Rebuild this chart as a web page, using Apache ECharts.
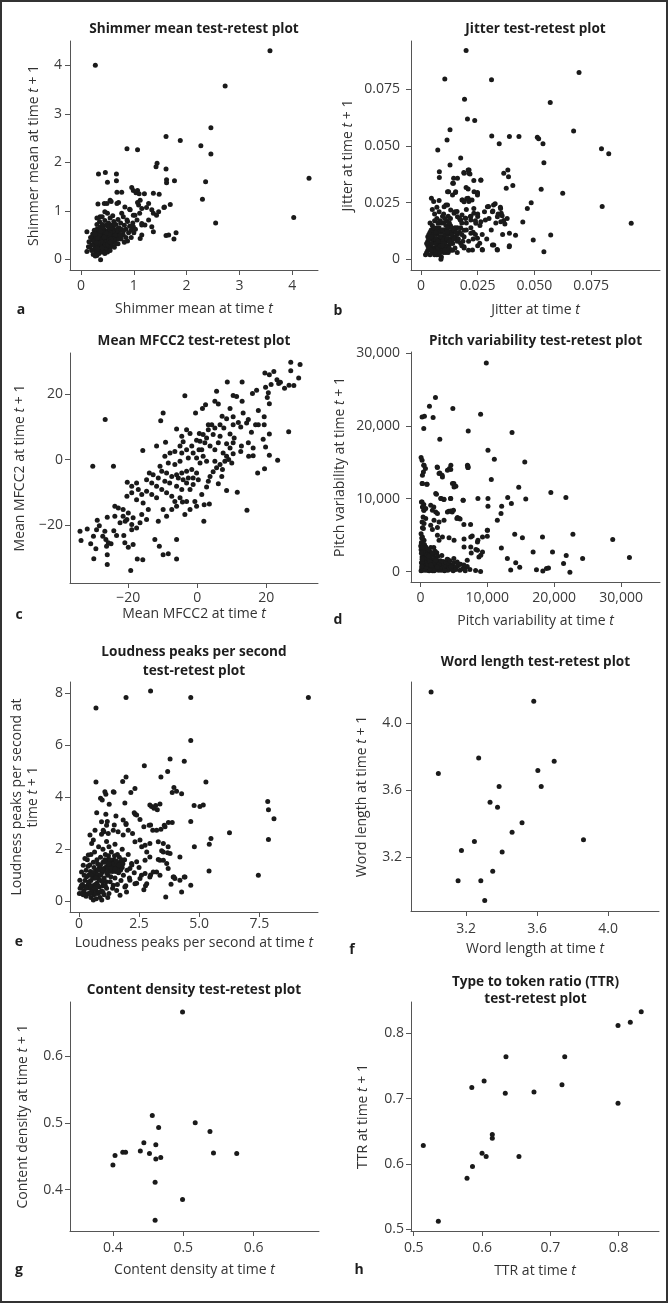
<!DOCTYPE html>
<html><head><meta charset="utf-8">
<script src="https://cdn.jsdelivr.net/npm/echarts@6/dist/echarts.min.js"></script>
<style>html,body{margin:0;padding:0;background:#fff}#c{width:668px;height:1303px}</style>
</head><body><div id="c"></div>
<script>
// ---------- DATA ----------
const shimmerData = [
[0.27,4.0],[3.58,4.3],[2.73,3.57],[2.46,2.71],[1.61,2.53],[1.88,2.45],[2.27,2.34],[0.87,2.28],[1.07,2.26],[2.46,2.17],[1.44,1.98],[1.42,1.91],[1.61,1.86],[4.32,1.67],[2.36,1.6],[1.62,1.64],[1.62,1.58],[1.77,1.62],[0.33,1.76],[0.46,1.79],[0.67,1.76],[0.5,1.59],[0.67,1.62],[2.3,1.24],[2.55,0.75],[4.03,0.86],[1.61,0.49],[1.66,0.5],[1.8,0.55],[1.76,0.42],[1.69,1.13],[1.57,1.07],[1.48,1.34],[1.37,1.36],[1.2,1.35],[1.04,1.37],[0.99,1.42],[0.96,1.48],[1.07,1.42],[1.1,1.35],[0.68,1.38],[0.77,1.38],[0.32,1.14],[0.44,1.15],[0.55,1.22],[0.71,1.17],[0.83,1.08],[0.92,1.03],[1.12,1.22],[1.09,1.12],[1.15,1.05],[1.11,0.95],[1.28,1.15],[1.34,1.02],[1.47,0.98],[1.58,1.08],[0.99,0.91],[1.06,0.81],[1.15,0.74],[1.21,0.71],[1.34,0.67],[1.37,0.57],[1.15,0.5],[1.12,0.43],[0.11,0.57],[0.11,0.16],[0.27,0.07],[0.37,-0.01],
[1.07,1.17],[1.24,1.07],[1.37,0.95],[1.43,0.91],[1.28,0.81],[1.15,0.71],[0.99,0.67],[0.87,0.81],[0.77,0.95],[0.93,1.02],[1.02,0.91],[0.68,1.15],[0.57,1.19],[0.49,1.15],[0.36,0.88],[0.3,0.85],[0.49,0.57],[0.36,0.26],[0.14,0.26],
[0.55,0.85],[0.6,0.9],[0.62,0.78],[0.66,0.72],[0.7,0.82],[0.72,0.65],[0.75,0.75],[0.78,0.6],[0.8,0.88],[0.82,0.7],[0.85,0.62],[0.88,0.78],[0.9,0.55],[0.92,0.68],[0.95,0.6],[0.98,0.75],[0.58,0.6],[0.6,0.5],[0.65,0.55],[0.68,0.45],[0.72,0.52],[0.76,0.42],[0.8,0.5],[0.85,0.45],[0.88,0.38],[0.5,0.95],[0.45,0.98],[0.4,0.88],[0.52,0.75],[0.56,0.68],[0.62,0.35],[0.7,0.32],[0.55,0.3],[0.82,0.35],[0.95,0.45],[1.0,0.55],[1.03,0.62],
[0.2,0.3],[0.22,0.4],[0.24,0.5],[0.25,0.2],[0.26,0.35],[0.27,0.45],[0.28,0.28],[0.28,0.55],[0.29,0.15],[0.3,0.38],[0.3,0.62],[0.31,0.25],[0.32,0.48],[0.32,0.32],[0.33,0.42],[0.33,0.2],[0.34,0.55],[0.34,0.36],[0.35,0.28],[0.35,0.46],[0.36,0.66],[0.36,0.4],[0.37,0.18],[0.37,0.33],[0.38,0.52],[0.38,0.44],[0.39,0.25],[0.39,0.38],[0.4,0.58],[0.4,0.3],[0.41,0.48],[0.41,0.42],[0.42,0.22],[0.42,0.35],[0.43,0.62],[0.43,0.5],[0.44,0.4],[0.44,0.28],[0.45,0.45],[0.45,0.33],[0.46,0.55],[0.46,0.2],[0.47,0.38],[0.47,0.7],[0.48,0.3],[0.48,0.48],[0.49,0.42],[0.5,0.25],[0.5,0.36],[0.5,0.58],[0.51,0.45],[0.52,0.32],[0.52,0.52],[0.53,0.4],[0.54,0.22],[0.54,0.62],[0.55,0.47],[0.56,0.36],[0.57,0.55],[0.58,0.42],[0.58,0.28],[0.6,0.65],[0.6,0.38],[0.62,0.48],[0.63,0.25],[0.64,0.58],[0.65,0.4],[0.66,0.32],[0.68,0.62],[0.7,0.42],[0.3,0.72],[0.35,0.78],[0.4,0.72],[0.45,0.8],[0.25,0.6],[0.22,0.52],[0.18,0.45],[0.15,0.36],[0.17,0.25],[0.2,0.18],[0.23,0.1],[0.3,0.08],[0.34,0.12],[0.4,0.15],[0.45,0.12],[0.5,0.15],[0.55,0.18],[0.26,0.42],[0.31,0.52],[0.36,0.5],[0.41,0.36],[0.46,0.42],[0.38,0.3],[0.43,0.44],[0.48,0.36],[0.33,0.3],[0.29,0.4],[0.39,0.47],[0.44,0.52],[0.49,0.5],[0.53,0.46],[0.57,0.38],[0.62,0.42],[0.35,0.6],[0.41,0.64],[0.52,0.66],[0.58,0.7],[0.63,0.72],[0.66,0.5],[0.7,0.58],[0.74,0.5],[0.76,0.62],[0.8,0.58],[0.27,0.24],[0.32,0.38],[0.37,0.26],[0.42,0.3],[0.47,0.24],[0.52,0.28],[0.24,0.3],
[0.25,0.38],[0.28,0.46],[0.3,0.3],[0.32,0.22],[0.34,0.44],[0.36,0.32],[0.38,0.4],[0.4,0.5],[0.42,0.42],[0.44,0.34],[0.46,0.48],[0.48,0.4],[0.5,0.45],[0.52,0.38],[0.54,0.5],[0.56,0.42],[0.38,0.36],[0.4,0.24],[0.42,0.56],[0.44,0.46],[0.46,0.3],[0.48,0.54],[0.35,0.52],[0.33,0.34],[0.31,0.44],[0.29,0.34],[0.27,0.52],[0.37,0.58],[0.5,0.3],[0.55,0.35]
];
const jitterData = [
[0.0199,0.0922],[0.0105,0.0796],[0.0311,0.0793],[0.0697,0.0825],[0.0192,0.0707],[0.057,0.0692],[0.0205,0.062],[0.0237,0.0613],[0.0128,0.0572],[0.0673,0.0567],[0.0115,0.0527],[0.0312,0.0545],[0.039,0.0542],[0.0432,0.0542],[0.0513,0.0539],[0.0519,0.0533],[0.0345,0.051],[0.0538,0.051],[0.0074,0.0483],[0.0796,0.0488],[0.0828,0.0466],[0.0175,0.0448],[0.0128,0.0417],[0.0542,0.0427],[0.0081,0.0387],[0.0081,0.0361],[0.0189,0.0383],[0.0208,0.0395],[0.0211,0.038],[0.0144,0.0358],[0.014,0.0336],[0.0264,0.0349],[0.0233,0.0348],[0.0365,0.038],[0.0383,0.0395],[0.0386,0.0365],[0.0405,0.0326],[0.0376,0.0314],[0.0199,0.0317],[0.0208,0.0311],[0.0249,0.0295],[0.0249,0.0284],[0.053,0.0309],[0.0625,0.0292],[0.0122,0.0299],[0.0152,0.0295],[0.0181,0.0262],[0.0208,0.027],[0.0225,0.0262],[0.0211,0.0255],[0.0046,0.027],[0.0056,0.0255],[0.0298,0.0233],[0.0327,0.0245],[0.0317,0.0214],[0.0351,0.0225],[0.0354,0.0203],[0.0358,0.0192],[0.0365,0.0171],[0.037,0.0156],[0.0486,0.025],[0.0469,0.0225],[0.0449,0.0165],[0.0799,0.0233],[0.0927,0.0159],[0.039,0.0115],[0.0417,0.0106],[0.0495,0.0085],[0.0572,0.0108],[0.0321,0.0063],[0.0336,0.0044],[0.039,0.006],[0.0542,0.0034],[0.0259,0.0071],[0.027,0.0044],[0.0284,0.0174],[0.025,0.0189],[0.0233,0.0203],[0.0233,0.0225],[0.0159,0.0211],[0.0181,0.0196],[0.0196,0.0181],[0.0218,0.0189],[0.0174,0.0174],[0.0088,0.0],
[0.019,0.038],[0.0212,0.0394],[0.0216,0.0377],[0.0143,0.0336],[0.0161,0.0358],[0.0117,0.0299],[0.0139,0.0284],[0.0153,0.0299],[0.0183,0.0262],[0.0202,0.0269],[0.0212,0.0262],[0.019,0.0254],[0.0234,0.0299],[0.0249,0.0292],[0.0264,0.035],[0.0102,0.0232],[0.0117,0.024],[0.0131,0.0218],[0.0146,0.0203],[0.0161,0.0188],[0.0175,0.0174],[0.0197,0.0181],[0.022,0.0174],[0.0242,0.0159],[0.0264,0.0166],[0.0293,0.0232],[0.0315,0.021],[0.0337,0.0188],[0.0352,0.0166],[0.019,0.0129],[0.022,0.0115],[0.0249,0.0093],[0.0271,0.0041],[0.0227,0.0041],[0.019,0.0056],[0.0175,0.0071],[0.0315,0.0063],[0.0337,0.0041],[0.0389,0.0056],
[0.002,0.002],[0.003,0.004],[0.003,0.008],[0.004,0.012],[0.004,0.006],[0.005,0.003],[0.005,0.01],[0.005,0.015],[0.006,0.005],[0.006,0.008],[0.006,0.013],[0.007,0.002],[0.007,0.006],[0.007,0.011],[0.007,0.018],[0.008,0.004],[0.008,0.009],[0.008,0.014],[0.008,0.021],[0.009,0.007],[0.009,0.012],[0.009,0.001],[0.01,0.005],[0.01,0.01],[0.01,0.016],[0.011,0.003],[0.011,0.008],[0.011,0.013],[0.012,0.006],[0.012,0.011],[0.012,0.019],[0.013,0.004],[0.013,0.009],[0.013,0.015],[0.014,0.007],[0.014,0.012],[0.015,0.005],[0.015,0.01],[0.016,0.014],[0.016,0.008],[0.017,0.012],[0.018,0.006],[0.018,0.016],[0.019,0.01],[0.02,0.013],[0.021,0.008],[0.022,0.019],[0.023,0.012],[0.024,0.017],[0.025,0.02],[0.026,0.015],[0.028,0.021],[0.03,0.018],[0.032,0.024],[0.034,0.02],[0.003,0.01],[0.004,0.016],[0.004,0.002],[0.005,0.007],[0.006,0.011],[0.006,0.017],[0.007,0.009],[0.007,0.014],[0.008,0.002],[0.008,0.007],[0.009,0.01],[0.009,0.016],[0.009,0.004],[0.01,0.008],[0.01,0.013],[0.011,0.006],[0.011,0.011],[0.012,0.003],[0.012,0.009],[0.013,0.012],[0.013,0.007],[0.014,0.01],[0.014,0.004],[0.015,0.014],[0.016,0.011],[0.003,0.006],[0.005,0.005],[0.005,0.012],[0.006,0.002],[0.007,0.004],[0.008,0.012],[0.009,0.008],[0.01,0.003],[0.011,0.015],[0.012,0.014],[0.004,0.009],[0.006,0.02],[0.007,0.023],[0.008,0.026],[0.005,0.022],[0.01,0.02],[0.011,0.024],[0.013,0.018],[0.015,0.021],[0.017,0.018],[0.02,0.016],[0.019,0.005],[0.021,0.004],[0.023,0.009],[0.025,0.006],[0.027,0.011],[0.029,0.009],[0.031,0.013],[0.033,0.016],[0.036,0.011],[0.035,0.023],[0.038,0.018],[0.016,0.003],[0.018,0.011],[0.02,0.022],[0.022,0.014],[0.024,0.011],
[0.0025,0.003],[0.0035,0.005],[0.0045,0.007],[0.0055,0.009],[0.0065,0.003],[0.0075,0.005],[0.0085,0.006],[0.0095,0.009],[0.0105,0.007],[0.0115,0.009],[0.0125,0.005],[0.0135,0.008],[0.0035,0.011],[0.0045,0.013],[0.0055,0.004],[0.0065,0.007],[0.0075,0.012],[0.0085,0.01],[0.0095,0.013],[0.0105,0.011],[0.0115,0.004],[0.0125,0.012],[0.0135,0.011],[0.0145,0.009],[0.0025,0.007],[0.0035,0.009],[0.0045,0.004],[0.0055,0.011],[0.0065,0.009],[0.0075,0.008],[0.0085,0.003],[0.0095,0.006],[0.0105,0.004],[0.0115,0.012],[0.0125,0.008],[0.0135,0.014],[0.0045,0.01],[0.0055,0.014],[0.0065,0.012],[0.0075,0.016],[0.0085,0.017],[0.0095,0.019],[0.0105,0.018],[0.0115,0.017],[0.0125,0.016],[0.0145,0.013],[0.0155,0.012],[0.0165,0.009],[0.0175,0.014],[0.0185,0.008]
];
const mfccData = [
[27.1,29.6],[29.8,28.9],[27.1,27.0],[19.6,26.3],[22.2,26.8],[20.9,25.8],[23.1,24.3],[24.1,23.5],[23.6,23.1],[25.3,21.7],[26.6,22.6],[29.4,24.8],[28.0,22.5],[21.4,22.8],[19.8,22.0],[20.6,20.3],[17.2,21.1],[16.0,20.1],[20.3,18.9],[20.9,17.0],[26.5,8.5],[20.9,7.8],[19.4,13.0],[17.7,14.9],[17.7,10.6],[19.4,10.6],[16.9,10.6],[19.1,6.2],[20.9,1.3],[23.3,-0.2],[19.5,-2.8],[17.5,-4.1],[16.2,3.5],[16.2,1.2],[19.8,3.8],
[13.0,17.7],[10.4,19.5],[11.4,19.2],[8.7,23.6],[13.0,23.6],[5.6,20.8],[6.1,16.9],[2.4,16.7],[1.5,15.5],[-0.5,14.2],[5.1,17.7],[7.2,13.2],[9.5,15.5],[10.4,13.0],[11.9,11.3],[13.3,14.2],[14.3,11.1],[14.8,12.2],[15.7,8.3],[12.6,9.9],[10.4,10.6],[8.5,12.4],[7.7,9.6],[9.5,7.8],[10.7,6.6],[12.8,4.1],[12.6,2.5],[14.8,5.1],[14.9,1.0],[10.4,5.1],[9.5,3.5],[8.5,4.8],[10.4,1.8],[8.5,1.0],[9.1,0],[10.0,-1.0],[7.5,2.0],[8.0,-0.5],[6.6,-1.5],[5.6,-2.5],[4.6,-3.7],[3.7,-5.1],[3.2,-6.6],[2.7,-8.3],[1.3,-10.6],[2.0,-13.7],[3.5,-13.5],[8.5,-9.4],[11.6,-9.9],[14.4,-15.4],[1.9,-18.7],[6.1,-7.3],[7.1,-5.1],[7.3,-3.0],[5.1,-0.5],[5.1,3.0],[6.1,5.1],[6.6,7.1],[4.6,7.6],[3.2,10.6],[4.2,10.6],[3.2,9.1],[6.6,10.6],[5.1,9.6],[1.7,7.6],[0.6,7.9],[-0.2,5.9],[0.8,5.6],[2.7,6.6],[2.2,5.1],[3.7,4.1],[1.3,3.0],[0.5,3.0],[1.7,1.0],[2.7,-0.5],[0.8,-1.0],[-0.2,0.5],
[-3.6,19.4],[-9.9,14.2],[-10.6,11.8],[-9.2,5.3],[-11.8,4.1],[-15.8,2.8],[-24.3,-2.0],[-30.3,-2.0],[-26.7,12.2],[-6.0,9.3],[-3.1,9.1],[-2.1,7.9],[-4.5,7.1],[-4.1,5.4],[-5.0,4.1],[-6.5,2.5],[-4.5,2.0],[-3.1,3.0],[-1.6,4.1],[-1.2,2.0],[-2.6,0.5],[-5.0,-0.5],[-6.5,-1.5],[-8.4,-1.0],[-9.4,1.0],[-7.9,2.0],[-10.8,-2.0],[-10.3,-3.5],[-8.9,-4.1],[-7.4,-5.1],[-6.0,-4.6],[-4.5,-4.1],[-3.1,-3.5],[-1.6,-3.0],[-0.2,-4.1],[-1.2,-5.6],[-2.6,-5.6],[-4.1,-6.1],[-5.5,-5.6],[-3.1,-7.1],[-1.2,-7.6],[0.3,-6.1],[-2.1,-9.1],[-4.5,-9.1],[-6.0,-8.1],[-8.0,-7.1],[-9.4,-6.6],[-11.3,-5.6],[-12.8,-4.6],[-13.9,-4.1],[-14.7,-6.1],[-13.2,-7.1],[-11.8,-8.1],[-10.3,-9.1],[-8.9,-10.1],[-7.4,-11.1],[-6.5,-12.7],[-5.0,-11.6],[-3.1,-12.7],[-0.7,-12.7],[-0.2,-14.2],[-2.1,-15.2],[-3.6,-16.7],[-6.0,-14.2],[-7.4,-15.2],[-8.9,-17.2],[-9.9,-15.2],[-11.8,-11.6],[-13.2,-10.6],[-14.7,-9.6],[-16.1,-10.6],[-17.1,-9.1],[-17.6,-7.1],[-19.0,-8.1],[-20.3,-6.9],[-19.0,-10.1],[-20.4,-11.1],[-17.6,-12.2],[-15.7,-13.2],[-14.2,-15.2],[-16.1,-16.7],[-14.7,-18.2],[-16.6,-19.2],[-18.6,-17.7],[-20.0,-16.2],[-21.5,-15.2],[-22.9,-14.7],[-23.9,-14.2],[-21.5,-17.2],[-20.4,-18.2],[-19.0,-19.7],[-17.6,-20.8],[-19.0,-21.3],[-20.9,-18.7],[-22.4,-19.2],[-23.9,-17.2],[-11.3,-18.7],[-12.3,-24.3],[-11.0,-26.3],[-9.9,-28.9],[-8.4,-28.6],[-6.0,-30.2],[-6.0,-24.3],[-4.3,-12.9],
[-26.1,-17.5],[-29.0,-18.4],[-28.4,-20.1],[-31.9,-21.1],[-29.2,-21.3],[-30.1,-23.3],[-34.0,-21.8],[-33.7,-24.6],[-30.9,-25.6],[-29.4,-27.1],[-30.0,-30.1],[-26.1,-28.9],[-27.4,-23.3],[-26.8,-21.8],[-26.5,-24.3],[-25.8,-25.3],[-26.3,-26.3],[-25.0,-25.6],[-23.4,-23.1],[-21.3,-23.1],[-21.0,-25.3],[-18.6,-25.8],[-20.0,-26.6],[-24.2,-21.6],[-26.1,-31.9],[-19.3,-33.7],[-17.4,-30.2],[-15.8,-30.4]
];
const pitchData = [
[9850,28630],[2250,23870],[1350,22680],[4850,22360],[9000,21580],[250,21220],[600,21310],[1900,21130],[500,19620],[7150,19300],[13700,19070],[2900,18150],[10100,16650],[11050,15410],[100,15640],[250,15270],[15600,15050],[10600,12620],[500,14590],[750,14130],[2500,14360],[7100,14500],[7100,14270],[4550,14590],[4350,14130],[2900,13540],[3250,13220],[250,12070],[1000,11980],[5000,12070],[5300,11710],[14700,11570],[19500,10840],[21750,10150],[2400,10610],[3100,10010],[3500,9880],[4500,10010],[6400,9790],[8600,10010],[10100,10010],[10100,8960],[13050,10150],[13600,9330],[12150,8960],[15750,9970],[250,9560],[500,8410],[500,9190],[2000,8870],[4250,8280],[4750,8190],[5450,7270],[5800,7270],[7500,6450],[6500,6450],[11500,7040],[12050,7960],[7750,4890],[8600,4300],[10000,5670],[10000,4850],[14100,5120],[15250,4660],[18250,4760],[22800,5120],[28750,4390],[31250,1920],[19750,2700],[16850,2700],[12100,3250],[13000,1780],[14250,1230],[14850,590],[13500,230],[17350,270],[18300,90],[18850,410],[19150,500],[21400,1100],[21800,2200],[24250,1780],[22350,-90],[8300,3020],[8750,2010],[7600,2560],[7000,1550],[6750,640],[8250,140],[9000,0],[5800,1010],[4750,640],[5000,1780],[4100,1650],[3900,1100],
[540,14580],[450,13670],[300,13210],[300,12070],[940,11980],[2545,14270],[2785,13450],[3290,12980],[4040,13900],[4535,13990],[4790,12070],[5030,11610],[7035,14580],[7125,14270],[2290,10700],[3040,10010],[3530,9920],[4535,10010],[6380,9780],[150,9550],[300,8860],[540,8410],[795,8640],[1540,9100],[1795,8410],[2290,8180],[2545,7960],[4040,8180],[4535,8320],[4940,8410],[3530,7040],[2785,6810],[2035,7040],[5540,7410],[5930,7220],[795,7270],[540,6590],[450,5900],[1540,6350],[1795,5760],[2545,6040],[300,4750],[540,4290],[150,3840],[795,3380],[2545,4980],[2785,4290],[3290,4750],[4280,4660],[5030,4290],[6525,4470],[7530,4750],[6525,3380],[7530,3380],[8530,4060],[9280,4750],[10030,5670],[8530,2920],[9280,2690],[9025,2240],
[100,100],[200,400],[300,900],[400,1500],[500,2200],[600,2800],[700,3400],[150,1200],[250,2000],[350,2600],[450,300],[550,700],[650,1100],[750,1800],[850,2500],[950,3100],[1050,200],[1150,600],[1250,1300],[1350,2000],[1450,2700],[1550,3300],[1650,400],[1750,900],[1850,1500],[1950,2300],[2050,100],[2150,700],[2250,1200],[2350,1900],[2450,2600],[2550,300],[2650,800],[2750,1400],[2850,500],[2950,1000],[3100,200],[3300,600],[3500,1100],[3700,400],[3900,800],[4100,200],[4300,500],[4500,900],[4700,300],[4900,100],[5100,600],[5300,300],[5600,800],[5900,200],[6300,400],[6700,100],[7000,700],[7400,300],[100,3000],[200,3600],[300,200],[400,500],[500,1000],[600,1600],[700,200],[800,700],[900,1300],[1000,1900],[1100,2500],[1200,3000],[1300,100],[1400,500],[1500,1000],[1600,1700],[1700,2200],[1800,100],[1900,600],[2000,1100],[2100,1700],[2200,2800],[2300,400],[2400,900],[2500,1500],[2600,2100],[2700,200],[2800,1000],[3000,1500],[3200,2200],[3400,1400],[3600,100],[3800,1300],[4000,1700],[4200,1100],[4400,1500],[4600,700],[5000,1200],[5500,1300],[6000,1000],[6500,900],[100,5200],[200,4600],[150,4000],[50,3500],[300,6000],[250,6800],[400,7500],
[300,1400],[500,1800],[700,2500],[900,600],[1100,1000],[1300,1700],[1500,300],[1700,700],[1900,1200],[2100,200],[2300,1600],[2500,600],[400,2800],[600,3700],[800,3200],[1000,2300],[1200,2100],[1400,1400],[1600,900],[1800,2600],[2000,3300],[200,700],[350,3300],[150,2500],[250,1700]
];
const loudnessData = [
[2.98,8.09],[1.96,7.84],[4.65,7.84],[9.54,7.84],[0.71,7.44],[4.65,6.19],[3.79,5.48],[2.72,5.22],[4.38,5.39],[3.69,5.0],[3.41,4.78],[0.71,4.59],[1.96,4.78],[1.82,4.61],[5.28,4.59],[2.33,4.34],[2.16,4.19],[3.95,4.38],[4.06,4.24],[3.88,4.19],[4.27,4.14],[1.46,4.2],[1.12,4.12],[1.26,3.74],[0.9,3.97],[0.97,3.9],[1.91,3.78],[3.37,3.75],[3.02,3.65],[3.19,3.69],[3.26,3.52],[4.79,3.69],[5.03,3.65],[5.17,3.71],[7.85,3.84],[7.88,3.52],[8.11,3.18],[0.74,3.41],[2.3,3.41],[2.34,3.35],[1.18,3.07],[1.47,2.94],[1.96,2.96],[2.7,2.87],[2.98,2.94],[3.72,3.03],[3.88,3.03],[4.65,3.07],[6.26,2.64],[3.58,2.87],[3.41,2.77],[3.07,2.74],[1.04,2.68],[0.94,2.58],[5.49,2.42],[5.42,2.2],[7.88,2.38],[4.8,2.1],[5.41,1.17],[7.46,1.0],[3.3,2.29],[3.51,2.23],[3.44,1.95],[3.69,1.87],[4.2,1.71],[3.3,1.61],[3.37,1.58],[3.65,1.46],[3.95,0.94],[3.99,0.88],[2.98,1.01],[3.23,1.13],[4.38,0.94],[3.83,0.66],[4.65,0.62],[4.27,0.36],[3.61,0.17],[2.7,0.45],[2.77,0.6],
[1.08,4.22],[1.43,4.22],[1.12,3.35],[1.54,3.28],[2.4,3.32],[0.94,3.06],[1.15,2.93],[1.84,3.13],[1.96,3.0],[2.95,3.71],[3.12,3.58],[2.54,3.15],[2.92,2.93],[3.23,2.74],[3.55,2.93],[0.67,2.74],[0.46,2.55],[0.6,2.36],[0.53,2.23],[0.39,1.78],[0.25,1.65],[0.18,1.39],[0.11,1.13],[0.04,0.81],[0.11,0.55],[0.25,0.3],[1.01,2.74],[1.22,2.61],[1.43,2.74],[1.63,2.68],[1.84,2.55],[2.05,2.74],[2.23,2.61],[2.33,2.29],[2.54,2.36],[2.61,2.1],[2.75,2.16],[2.95,2.23],[2.82,1.9],[2.95,1.71],[2.75,1.58],[2.4,1.52],[2.19,1.46],[2.12,1.26],[3.51,1.9],[3.71,2.1],[3.79,1.84],[3.51,1.58],[3.71,1.26],[3.37,1.0],[3.92,0.94],[4.2,0.81],[4.41,0.94],[1.43,0.62],[1.57,0.42],[1.71,0.23],[1.91,0.55],[1.98,0.36],[2.12,0.81],[2.33,0.68],[2.54,0.88],[2.75,1.07],[2.82,0.68],[2.95,0.94],[3.09,1.13],[0.02,0.3],[0.05,0.5],
[0.2,0.4],[0.25,0.8],[0.3,0.2],[0.3,1.2],[0.35,0.6],[0.35,1.6],[0.4,0.3],[0.4,1.0],[0.45,0.5],[0.45,1.4],[0.5,0.15],[0.5,0.8],[0.5,1.8],[0.55,0.4],[0.55,1.1],[0.6,0.6],[0.6,1.5],[0.62,0.25],[0.65,0.9],[0.65,1.9],[0.7,0.45],[0.7,1.2],[0.72,0.1],[0.75,0.7],[0.75,1.6],[0.8,0.3],[0.8,1.0],[0.82,2.1],[0.85,0.55],[0.85,1.3],[0.88,0.15],[0.9,0.8],[0.9,1.7],[0.95,0.4],[0.95,1.1],[1.0,0.6],[1.0,1.5],[1.0,2.0],[1.05,0.25],[1.05,0.9],[1.1,1.3],[1.1,1.8],[1.15,0.5],[1.15,2.3],[1.2,1.0],[1.2,1.6],[1.25,0.3],[1.25,2.1],[1.3,0.75],[1.3,1.4],[1.35,1.9],[1.4,0.5],[1.4,1.15],[1.45,1.6],[1.5,0.9],[1.5,2.2],[1.55,1.35],[1.6,0.65],[1.6,1.8],[1.65,1.1],[1.7,1.5],[1.75,0.8],[1.8,1.3],[1.8,2.0],[1.85,1.0],[1.9,1.6],[1.95,0.6],[2.0,1.2],[2.05,1.8],[2.1,0.9],[2.2,1.4],[2.3,1.1],[2.4,0.7],[2.5,1.3],[2.6,1.0],[0.28,0.55],[0.32,0.95],[0.38,1.35],[0.42,0.75],[0.48,1.15],[0.52,0.35],[0.58,0.95],[0.63,1.3],[0.68,0.65],[0.73,1.05],[0.78,1.45],[0.83,0.85],[0.93,1.25],[0.98,0.75],[1.03,1.2],[1.08,1.6],[1.13,0.75],[1.18,1.35],[1.23,1.75],[1.28,1.15],[1.33,0.95],[1.38,1.55],[1.43,1.35],[1.48,1.75],[1.53,1.15],[1.58,1.45],[1.63,1.25],[1.68,1.7],[1.73,1.2],[1.78,1.6],[1.83,1.45],[0.15,0.65],[0.18,0.25],[0.22,1.0],[0.6,0.05],[0.95,0.05],[1.2,0.15],[0.12,0.3],[0.1,0.6],
[0.3,0.5],[0.4,0.7],[0.5,0.6],[0.6,0.9],[0.7,0.3],[0.8,0.6],[0.9,1.0],[1.0,0.35],[1.1,0.6],[1.2,1.25],[1.3,1.6],[1.4,1.3],[1.5,1.5],[1.6,1.2],[1.7,1.35],[1.1,1.5],[1.0,1.2],[0.9,1.4],[0.8,1.2],[0.7,0.9],[0.6,1.1],[0.5,1.0],[0.45,0.3],[0.65,0.5],[0.85,0.35],[1.15,1.1],[1.25,1.45],[1.35,1.25],[1.45,1.45],[1.55,1.55],[1.65,1.4],[1.5,1.25]
];
const wordLengthData = [
[3.003,4.186],[3.581,4.130],[3.044,3.699],[3.271,3.791],[3.696,3.771],[3.604,3.717],[3.386,3.621],[3.623,3.621],[3.335,3.527],[3.377,3.497],[3.515,3.404],[3.459,3.348],[3.247,3.292],[3.861,3.302],[3.174,3.238],[3.403,3.230],[3.350,3.114],[3.155,3.058],[3.283,3.058],[3.305,2.939]
];
const contentDensityData = [
[0.499,0.666],[0.456,0.511],[0.517,0.500],[0.465,0.493],[0.538,0.487],[0.444,0.470],[0.461,0.467],[0.439,0.458],[0.414,0.456],[0.418,0.456],[0.452,0.454],[0.543,0.455],[0.576,0.454],[0.403,0.451],[0.461,0.446],[0.468,0.448],[0.400,0.437],[0.460,0.411],[0.499,0.385],[0.460,0.354]
];
const ttrData = [
[0.514,0.628],[0.536,0.512],[0.578,0.578],[0.586,0.596],[0.585,0.717],[0.603,0.727],[0.600,0.616],[0.606,0.611],[0.615,0.645],[0.615,0.639],[0.635,0.764],[0.634,0.708],[0.654,0.611],[0.676,0.710],[0.717,0.721],[0.721,0.764],[0.799,0.693],[0.799,0.812],[0.817,0.817],[0.833,0.833]
];
const shimmerTicks = [0,1,2,3,4];
const jitterTicks = [0,0.025,0.05,0.075];
const mfccTicks = [-20,0,20];
const pitchTicks = [0,10000,20000,30000];
const loudnessXTicks = [0,2.5,5,7.5];
const loudnessYTicks = [0,2,4,6,8];
const wordTicks = [3.2,3.6,4.0];
const densityTicks = [0.4,0.5,0.6];
const ttrTicks = [0.5,0.6,0.7,0.8];

// ---------- FORMATTERS ----------
const fInt = v => String(v);
const f3 = v => v === 0 ? '0' : v.toFixed(3);
const fMinus = v => v < 0 ? '\u2212' + Math.abs(v) : String(v);
const fComma = v => v === 0 ? '0' : (v / 1000) + ',000';
const f1z = v => v === 0 ? '0' : v.toFixed(1);
const f1 = v => v.toFixed(1);

// ---------- LAYOUT ----------
const FONT = '"Open Sans","Noto Sans",sans-serif';
const FS = 14;
const panels = [
 {letter:'a', title:'Shimmer mean test-retest plot', xName:'Shimmer mean at time {i|t}', yName:'Shimmer mean at time {i|t} + 1', data:shimmerData, xT:shimmerTicks, yT:shimmerTicks, xF:fInt, yF:fInt,
  g:[70,41,248,229], xr:[-0.21,4.49], yr:[-0.22,4.5], xGap:31, yGap:28, xM:9, yM:8, tp:[194,29], lp:[21,310]},
 {letter:'b', title:'Jitter test-retest plot', xName:'Jitter at time {i|t}', yName:'Jitter at time {i|t} + 1', data:jitterData, xT:jitterTicks, yT:jitterTicks, xF:f3, yF:f3,
  g:[411,41,249,229], xr:[-0.0044,0.1054], yr:[-0.0047,0.0964], xGap:32.5, yGap:55, xM:9, yM:11, tp:[535.5,29], lp:[338,311]},
 {letter:'c', title:'Mean MFCC2 test-retest plot', xName:'Mean MFCC2 at time {i|t}', yName:'Mean MFCC2 at time {i|t} + 1', data:mfccData, xT:mfccTicks, yT:mfccTicks, xF:fMinus, yF:fMinus,
  g:[70,353,248,230], xr:[-36.9,35], yr:[-37.5,32.4], xGap:21.5, yGap:41.5, xM:8, yM:7, tp:[194,341], lp:[19,615]},
 {letter:'d', title:'Pitch variability test-retest plot', xName:'Pitch variability at time {i|t}', yName:'Pitch variability at time {i|t} + 1', data:pitchData, xT:pitchTicks, yT:pitchTicks, xF:fComma, yF:fComma,
  g:[411,352,249,230], xr:[-1407,35820], yr:[-1427,30123], xGap:31.5, yGap:63, xM:9, yM:11, tp:[535.5,341], lp:[338,620]},
 {letter:'e', title:'Loudness peaks per second\ntest-retest plot', tlh:19, xName:'Loudness peaks per second at time {i|t}', yName:'Loudness peaks per second at\ntime {i|t} + 1', data:loudnessData, xT:loudnessXTicks, yT:loudnessYTicks, xF:f1z, yF:fInt,
  g:[70,682,248,230], xr:[-0.37,9.94], yr:[-0.41,8.44], xGap:23, yGap:29, xM:5, yM:7, tp:[194,661.7], lp:[19,942]},
 {letter:'f', title:'Word length test-retest plot', xName:'Word length at time {i|t}', yName:'Word length at time {i|t} + 1', data:wordLengthData, xT:wordTicks, yT:wordTicks, xF:f1, yF:f1,
  g:[411,682,248,229], xr:[2.89,4.286], yr:[2.877,4.245], xGap:30.5, yGap:41, xM:11, yM:9, tp:[535.5,662.3], lp:[352,950]},
 {letter:'g', title:'Content density test-retest plot', xName:'Content density at time {i|t}', yName:'Content density at time {i|t} + 1', data:contentDensityData, xT:densityTicks, yT:densityTicks, xF:f1, yF:f1,
  g:[70,1002,249,229], xr:[0.339,0.693], yr:[0.338,0.681], xGap:31.5, yGap:39, xM:10, yM:7, tp:[194,990], lp:[19,1270]},
 {letter:'h', title:'Type to token ratio (TTR)\ntest-retest plot', tlh:17.7, xName:'TTR at time {i|t}', yName:'TTR at time {i|t} + 1', data:ttrData, xT:ttrTicks, yT:ttrTicks, xF:f1, yF:f1,
  g:[411,1002,248,229], xr:[0.496,0.859], yr:[0.497,0.848], xGap:32, yGap:40, xM:10, yM:7, tp:[535.5,990.5], lp:[359,1270]}
];

const AXC = '#555';
const nameStyle = lh => ({fontFamily:FONT, fontSize:FS, color:'#333', lineHeight:lh,
  rich:{i:{fontFamily:FONT, fontSize:FS, color:'#333', fontStyle:'italic', lineHeight:lh}}});
function axis(i, p, dim){
  const isX = dim === 'x';
  const ticks = isX ? p.xT : p.yT;
  const r = isX ? p.xr : p.yr;
  return {
    type:'value', gridIndex:i, min:r[0], max:r[1],
    axisLine:{show:true, onZero:false, lineStyle:{color:AXC, width:1}},
    axisTick:{show:true, customValues:ticks, length:5, inside:false, lineStyle:{color:AXC, width:1}},
    axisLabel:{show:true, customValues:ticks, formatter:isX ? p.xF : p.yF, color:'#3a3a3a', fontSize:FS, fontFamily:FONT, margin:isX ? p.xM : p.yM},
    splitLine:{show:false},
    name:isX ? p.xName : p.yName, nameLocation:'middle', nameGap:isX ? p.xGap : p.yGap,
    nameTextStyle:nameStyle(16)
  };
}

const graphics = [{type:'rect', shape:{x:1, y:1, width:666, height:1301}, style:{fill:'none', stroke:'#333', lineWidth:2}, silent:true}];
panels.forEach(p => {
  graphics.push({type:'text', x:p.tp[0], y:p.tp[1], silent:true,
    style:{text:p.title, fill:'#1e1e1e', font:'bold 13.6px ' + FONT, fontWeight:'bold', fontSize:13.6, fontFamily:FONT,
      align:'center', verticalAlign:'middle', textAlign:'center', textVerticalAlign:'middle', lineHeight:p.tlh || 16}});
  graphics.push({type:'text', x:p.lp[0], y:p.lp[1], silent:true,
    style:{text:p.letter, fill:'#1e1e1e', font:'bold 14px ' + FONT, fontWeight:'bold', fontSize:14, fontFamily:FONT,
      align:'center', verticalAlign:'middle', textAlign:'center', textVerticalAlign:'middle'}});
});

const option = {
  animation:false,
  backgroundColor:'#fff',
  grid: panels.map(p => ({left:p.g[0], top:p.g[1], width:p.g[2], height:p.g[3], containLabel:false})),
  xAxis: panels.map((p,i) => axis(i, p, 'x')),
  yAxis: panels.map((p,i) => axis(i, p, 'y')),
  series: panels.map((p,i) => ({type:'scatter', xAxisIndex:i, yAxisIndex:i, data:p.data, symbol:'circle', symbolSize:5,
    itemStyle:{color:'#1a1a1a', opacity:1}, silent:true, clip:false})),
  graphic: graphics
};
const chart = echarts.init(document.getElementById('c'), null, {renderer:'canvas', width:668, height:1303});
chart.setOption(option);
</script></body></html>
